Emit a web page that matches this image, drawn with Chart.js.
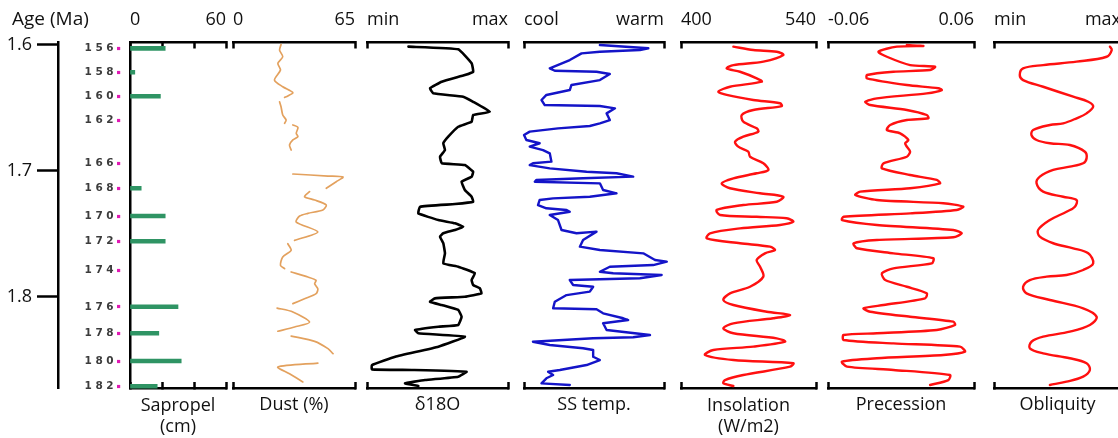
<!DOCTYPE html>
<html><head><meta charset="utf-8">
<script src="https://cdn.jsdelivr.net/npm/chart.js@4.4.1/dist/chart.umd.min.js"></script>
<style>
html,body{margin:0;padding:0;overflow:hidden;background:#fff;width:1118px;height:438px;position:relative;}
canvas{position:absolute;top:0;}
</style></head><body>
<script>
// ---------- DATA ----------
const ageTicks = [1.6, 1.7, 1.8];
const ageMin = 1.5984, ageMax = 1.8724;

const sapropelNumbers = ['156','158','160','162','166','168','170','172','174','176','178','180','182'];
const sapropelAges = [1.603,1.622,1.641,1.660,1.694,1.714,1.736,1.756,1.779,1.808,1.829,1.851,1.871];
const sapropelThickness = [22,3,19,null,null,7,22,22,null,30,18,32,17];

const dustAge = [1.600,1.6044,1.6097,1.6149,1.6202,1.6282,1.6335,1.6382,1.6408,1.6419, 1.6436,
  1.6454,1.6493,1.6559,1.6599,1.6625, 1.6631,
  1.6638,1.6657,1.6704,1.6731,1.6757,1.6797,1.6837, 1.690,
  1.7027,1.7043,1.7051,1.7088,1.7140, 1.7153,
  1.7167,1.7207,1.7233,1.7273,1.7312,1.7339,1.7360,1.7408,1.7487,1.7553, 1.7566,
  1.7580,1.7632,1.7685,1.7751,1.7778, 1.779,
  1.7804,1.7844,1.7870,1.7897,1.7937,1.7976,1.8016,1.8055, 1.807,
  1.8090,1.8121,1.8201,1.8240,1.8274, 1.829,
  1.8312,1.8354,1.8412,1.8452, 1.849,
  1.8526,1.8557,1.8611,1.8676];
const dustPct = [25.6,24.8,26.5,23.9,25.3,22.1,26.5,31.9,29.2,27.5, null,
  24.8,25.6,26.5,28.3,27.5, null,
  31.9,34.6,33.7,34.6,31.9,30.1,31.0, null,
  31.9,50.6,58.6,55.0,49.7, null,
  40.8,38.1,43.5,49.7,47.9,39.9,35.5,33.7,45.2,32.8, null,
  29.2,31.0,26.5,25.3,27.5, null,
  31.0,39.9,44.3,43.5,45.2,44.3,38.1,31.9, null,
  23.5,31.9,40.8,32.8,23.9, null,
  31.0,43.5,50.6,53.3, null,
  45.2,23.9,30.1,37.2];

const d18Age = [1.6017,1.6038,1.6149,1.6216,1.6242,1.6295,1.6347,1.6387,1.6414,1.6454,
  1.6533,1.6559,1.6612,1.6652,1.6731,1.6783,1.6837,1.6890,1.6942,1.6956,
  1.7009,1.7048,1.7088,1.7154,1.7207,1.7247,1.7265,1.7286,1.7339,1.7392,
  1.7418,1.7445,1.7471,1.7497,1.7524,1.7576,1.7656,1.7735,1.7762,1.7814,
  1.7868,1.7907,1.7933,1.7973,1.8000,1.8013,1.8040,1.8066,1.8105,1.8159,
  1.8224,1.8238,1.8264,1.8290,1.8317,1.8396,1.8476,1.8542,1.8576,1.8581,
  1.8595,1.8634,1.8661,1.8687,1.8708];
const d18Val = [29.4,64.7,74.2,75.3,69.4,53.0,44.7,47.0,68.2,75.3,
  87.1,75.3,74.2,64.7,57.6,54.1,55.3,51.8,53.0,69.4,
  75.3,74.2,67.1,69.4,74.2,75.3,62.4,37.6,36.4,50.6,
  62.4,68.2,62.4,54.1,51.8,54.1,55.3,54.1,64.7,76.5,
  74.2,75.3,80.0,81.2,69.4,48.2,44.7,53.0,64.7,67.1,
  64.7,50.6,34.1,36.4,69.4,50.6,20.0,3.5,3.5,31.8,
  70.6,64.7,41.2,27.0,36.4];

const sstAge = [1.6004,1.6030,1.6044,1.6057,1.6070,1.6123,1.6189,1.6208,1.6216,1.6234,
  1.6282,1.6321,1.6361,1.6400,1.6440,1.6480,1.6488,1.6506,1.6546,1.6599,
  1.6625,1.6646,1.6665,1.6691,1.6718,1.6757,1.6783,1.6810,1.6837,1.6863,
  1.6929,1.6942,1.6956,1.6982,1.7009,1.7021,1.7048,1.7061,1.7074,1.7088,
  1.7101,1.7154,1.7180,1.7207,1.7220,1.7233,1.7273,1.7299,1.7312,1.7326,
  1.7352,1.7392,1.7471,1.7497,1.7484,1.7550,1.7603,1.7630,1.7656,1.7709,
  1.7722,1.7749,1.7762,1.7802,1.7814,1.7828,1.7854,1.7868,1.7907,1.7921,
  1.7960,1.7987,1.8040,1.8092,1.8100,1.8132,1.8171,1.8185,1.8211,1.8264,
  1.8304,1.8322,1.8330,1.8357,1.8383,1.8409,1.8423,1.8476,1.8502,1.8542,
  1.8581,1.8595,1.8621,1.8647,1.8687,1.8700];
const sstVal = [54.2,88.8,82.8,54.2,41.1,32.7,18.4,22.0,51.8,61.3,
  54.2,33.9,32.7,16.0,12.5,14.8,54.2,65.0,59.0,61.3,
  54.2,47.0,24.3,4.1,0,1.7,11.2,4.1,13.6,18.4,
  19.6,6.4,4.1,18.4,44.7,66.1,78.0,42.2,8.9,7.7,
  54.2,56.5,66.1,47.0,20.8,11.2,10.0,16.0,30.4,32.7,
  18.4,24.3,26.8,37.5,51.8,42.2,39.9,54.2,85.2,93.6,
  102,92.3,61.3,54.2,63.7,98.3,82.8,32.7,35.1,49.4,
  47.0,30.4,22.0,20.8,51.8,56.5,70.9,74.4,56.5,59.0,
  90.0,78.0,49.4,6.4,18.4,42.2,49.4,49.4,54.2,44.7,
  25.6,17.2,20.8,16.0,12.5,32.7];

const insolAge = [1.6017,1.6044,1.6057,1.6083,1.6136,1.6163,1.6189,1.6216,1.6268,1.6295,
  1.6335,1.6374,1.6400,1.6440,1.6466,1.6488,1.6519,1.6559,1.6612,1.6665,
  1.6691,1.6731,1.6771,1.6810,1.6850,1.6890,1.6942,1.6995,1.7021,1.7061,
  1.7101,1.7140,1.7180,1.7207,1.7247,1.7273,1.7312,1.7352,1.7366,1.7378,
  1.7405,1.7431,1.7458,1.7497,1.7537,1.7576,1.7603,1.7630,1.7656,1.7709,
  1.7762,1.7841,1.7921,1.7973,1.8026,1.8066,1.8119,1.8145,1.8171,1.8211,
  1.8251,1.8290,1.8330,1.8357,1.8396,1.8423,1.8462,1.8502,1.8528,1.8555,
  1.8621,1.8661,1.8687,1.8708];
const insolVal = [454.3,475.0,499.3,506.1,485.4,454.3,447.4,461.2,478.5,483.7,
  450.8,438.7,447.4,475.0,502.7,504.5,475.0,463.0,464.6,478.5,
  480.2,464.6,456.0,459.4,469.8,471.6,485.4,490.6,478.5,454.3,
  442.2,450.8,482.0,506.1,499.3,464.6,437.0,440.5,478.5,509.6,
  516.5,502.7,461.2,430.1,426.7,461.2,492.3,497.5,487.1,478.5,
  482.0,485.4,471.6,450.8,443.9,454.3,488.9,513.1,495.7,454.3,
  443.9,454.3,499.3,507.9,475.0,433.5,424.9,454.3,516.5,513.1,
  464.6,445.6,443.9,454.3];

const precAge = [1.6004,1.6012,1.6017,1.6057,1.6097,1.6163,1.6176,1.6202,1.6216,1.6242,
  1.6268,1.6321,1.6347,1.6361,1.6387,1.6427,1.6454,1.6480,1.6519,1.6559,
  1.6585,1.6599,1.6638,1.6678,1.6704,1.6757,1.6783,1.6810,1.6850,1.6890,
  1.6942,1.6982,1.7035,1.7074,1.7101,1.7140,1.7167,1.7193,1.7233,1.7259,
  1.7286,1.7312,1.7339,1.7366,1.7392,1.7431,1.7471,1.7497,1.7529,1.7550,
  1.7576,1.7616,1.7656,1.7695,1.7735,1.7775,1.7814,1.7868,1.7921,1.7973,
  1.8013,1.8066,1.8092,1.8119,1.8159,1.8198,1.8224,1.8264,1.8290,1.8304,
  1.8343,1.8370,1.8396,1.8436,1.8462,1.8488,1.8515,1.8555,1.8581,1.8621,
  1.8661,1.8700];
const precVal = [0.0048,0.0184,-0.0034,-0.0185,-0.0116,0.0075,0.0280,0.0239,-0.0062,-0.0280,
  -0.0280,0.0048,0.0307,0.0335,0.0212,-0.0198,-0.0294,-0.0253,0.0048,0.0212,
  0.0225,0.0048,-0.0089,-0.0116,-0.0007,0.0061,0.0034,0.0048,0.0075,0.0048,
  -0.0144,-0.0157,0.0075,0.0294,0.0321,0.0075,-0.0335,-0.0376,-0.0198,0.0348,
  0.0512,0.0458,0.0075,-0.0472,-0.0485,-0.0198,0.0430,0.0499,0.0430,-0.0198,
  -0.0390,-0.0362,-0.0062,0.0266,0.0253,-0.0062,-0.0157,-0.0130,0.0048,0.0212,
  0.0198,-0.0144,-0.0308,-0.0253,0.0075,0.0430,0.0444,0.0294,-0.0198,-0.0472,
  -0.0472,-0.0062,0.0485,0.0526,0.0348,-0.0198,-0.0485,-0.0444,-0.0062,0.0403,
  0.0389,0.0239];

const oblAge = [1.6017,1.6044,1.6097,1.6136,1.6163,1.6189,1.6242,1.6282,1.6335,1.6414,
  1.6454,1.6493,1.6546,1.6585,1.6625,1.6638,1.6678,1.6718,1.6757,1.6783,
  1.6797,1.6850,1.6902,1.6942,1.6969,1.6995,1.7048,1.7101,1.7167,1.7207,
  1.7233,1.7286,1.7326,1.7392,1.7471,1.7524,1.7576,1.7616,1.7656,1.7735,
  1.7788,1.7828,1.7841,1.7868,1.7921,1.7973,1.8026,1.8092,1.8159,1.8224,
  1.8277,1.8317,1.8357,1.8409,1.8449,1.8488,1.8528,1.8581,1.8634,1.8674,
  1.8700];
const oblVal = [91.3,92.7,88.7,65.0,38.7,22.9,20.3,22.9,38.7,62.4,
  74.2,78.1,72.9,65.0,54.5,44.0,30.8,29.5,33.5,44.0,
  59.7,71.6,72.9,70.2,59.7,46.6,36.1,33.5,38.7,54.5,
  65.0,63.7,57.1,44.0,34.7,36.1,46.6,62.4,74.2,78.1,
  70.2,57.1,41.4,28.2,22.9,25.6,44.0,70.2,80.8,75.5,
  59.7,38.7,29.5,28.2,38.7,59.7,72.9,75.5,70.2,57.1,
  44.0];

// ---------- SETUP ----------
const FONT = "'Open Sans', 'Liberation Sans', Arial, sans-serif";
Chart.defaults.font.family = FONT;
Chart.defaults.color = '#111';

// linear scale whose labels may extend beyond the axis box
class FreeLinearScale extends Chart.LinearScale {
  static id = 'freeLinear';
  static defaults = Chart.LinearScale.defaults;
  _computeLabelArea() { return undefined; }
}
// same, with letter-spaced labels (sapropel numbers)
class SpacedLinearScale extends FreeLinearScale {
  static id = 'spacedLinear';
  static defaults = Chart.LinearScale.defaults;
  drawLabels(area) {
    const ctx = this.ctx;
    ctx.save();
    ctx.letterSpacing = '3.5px';
    super.drawLabels(area);
    ctx.restore();
  }
}
Chart.register(FreeLinearScale, SpacedLinearScale);

const AREA_TOP = 42.5, BOTTOM_H = 50, PAD = 22, H = 438;

function makeCanvas(left, width) {
  const c = document.createElement('canvas');
  c.width = width; c.height = H;
  c.style.left = left + 'px'; c.style.width = width + 'px'; c.style.height = H + 'px';
  document.body.appendChild(c);
  return c;
}

function gridOpts() {
  return {display: true, drawOnChartArea: false, drawTicks: true, offset: false,
          tickLength: -6, tickWidth: 2.5, tickColor: '#000'};
}
function borderOpts() { return {display: true, color: '#000', width: 2.5}; }

function xAxes(p, topH) {
  const setTicks = s => { s.ticks = p.ticks.map(v => ({value: v})); };
  const twoLine = Array.isArray(p.title);
  return {
    x: {type: 'freeLinear', position: 'top', min: p.min, max: p.max, offset: false,
        afterBuildTicks: setTicks, afterFit: s => { s.height = topH; },
        ticks: {autoSkip: false, maxRotation: 0, minRotation: 0, align: 'inner', padding: 17.7,
                font: {size: 18}, color: '#111',
                callback: (v, i, t) => i === 0 ? p.lo : (i === t.length - 1 ? p.hi : '')},
        grid: gridOpts(), border: borderOpts()},
    xb: {type: 'freeLinear', position: 'bottom', min: p.min, max: p.max, offset: false,
        afterBuildTicks: setTicks, afterFit: s => { s.height = BOTTOM_H; },
        ticks: {display: false},
        grid: gridOpts(), border: borderOpts(),
        title: {display: true, text: p.title, font: {size: 18}, color: '#111',
                padding: {top: 0, bottom: twoLine ? 0 : 22}}}
  };
}

// ---------- SAPROPEL + AGE AXIS ----------
(function () {
  const p = {min: 0, max: 60, ticks: [0, 20, 40, 60], lo: '0', hi: '60', title: ['Sapropel', '(cm)']};
  const titleH = 19 * 1.2 + 8;
  const c = makeCanvas(0, 226 + PAD);
  new Chart(c, {
    type: 'bar',
    data: {datasets: [{
      data: sapropelAges.map((a, i) => ({x: sapropelThickness[i], y: a})),
      backgroundColor: '#2f9464', borderWidth: 0, barThickness: 4,
      xAxisID: 'x', yAxisID: 'y', clip: 6
    }]},
    options: {
      indexAxis: 'y', responsive: false, animation: false, events: [],
      layout: {padding: {left: 12, right: PAD, top: 0, bottom: 0}},
      plugins: {legend: {display: false}, tooltip: {enabled: false},
        title: {display: true, text: 'Age (Ma)', align: 'start', color: '#111',
                font: {size: 19, weight: 'normal'}, padding: {top: 8, bottom: 0}}},
      scales: Object.assign(xAxes(p, AREA_TOP - titleH), {
        y: {type: 'spacedLinear', position: 'left', weight: 0, min: ageMin, max: ageMax, reverse: true, offset: false,
            afterBuildTicks: s => { s.ticks = sapropelAges.map(v => ({value: v})); },
            afterFit: s => { s.width = 72; },
            ticks: {autoSkip: false, padding: 0, font: {family: "'DejaVu Sans', sans-serif", size: 10.5, weight: 'bold'}, color: '#3c3c3c',
                    callback: (v, i) => sapropelNumbers[i]},
            grid: {display: true, drawOnChartArea: false, drawTicks: true, offset: false,
                   tickLength: 13, tickWidth: 3.2, tickColor: '#e01ab4', tickBorderDash: [3.2, 40]},
            border: borderOpts()},
        yAge: {type: 'freeLinear', position: 'left', weight: 1, min: ageMin, max: ageMax, reverse: true, offset: false,
            afterBuildTicks: s => { s.ticks = ageTicks.map(v => ({value: v})); },
            afterFit: s => { s.width = 46; },
            ticks: {autoSkip: false, padding: 5, font: {size: 18}, color: '#111', callback: v => v.toFixed(1)},
            grid: {display: true, drawOnChartArea: false, drawTicks: true, offset: false,
                   tickLength: 21, tickWidth: 2.5, tickColor: '#000'},
            border: borderOpts()}
      })
    }
  });
})();

// ---------- LINE PANELS ----------
const panels = [
  {L: 233, R: 355, min: 0, max: 65, ticks: [0, 65], lo: '0', hi: '65', title: 'Dust (%)',
   ages: dustAge, vals: dustPct, color: '#e3a15e', width: 1.7, tension: 0.25},
  {L: 367, R: 508, min: 0, max: 100, ticks: [0, 100], lo: 'min', hi: 'max', title: 'δ18O',
   ages: d18Age, vals: d18Val, color: '#000000', width: 2.6, tension: 0.1},
  {L: 524, R: 664, min: 0, max: 100, ticks: [0, 100], lo: 'cool', hi: 'warm', title: 'SS temp.',
   ages: sstAge, vals: sstVal, color: '#1414c8', width: 2.4, tension: 0},
  {L: 681, R: 816, min: 400, max: 540, ticks: [400, 540], lo: '400', hi: '540', title: ['Insolation', '(W/m2)'],
   ages: insolAge, vals: insolVal, color: '#ff1010', width: 2.4, tension: 0.3},
  {L: 828, R: 974, min: -0.06, max: 0.06, ticks: [-0.06, 0.06], lo: '-0.06', hi: '0.06', title: 'Precession',
   ages: precAge, vals: precVal, color: '#ff1010', width: 2.4, tension: 0.25},
  {L: 994, R: 1121, min: 0, max: 100, ticks: [0, 100], lo: 'min', hi: 'max', title: 'Obliquity',
   ages: oblAge, vals: oblVal, color: '#ff1010', width: 2.4, tension: 0.35}
];

panels.forEach(p => {
  const c = makeCanvas(p.L - PAD, p.R - p.L + 2 * PAD);
  new Chart(c, {
    type: 'line',
    data: {datasets: [{
      data: p.ages.map((a, i) => ({x: p.vals[i], y: a})),
      borderColor: p.color, borderWidth: p.width, pointRadius: 0, fill: false,
      tension: p.tension, spanGaps: false, clip: 12,
      borderJoinStyle: 'round', borderCapStyle: 'round',
      xAxisID: 'x', yAxisID: 'y'
    }]},
    options: {
      indexAxis: 'y', responsive: false, animation: false, events: [],
      layout: {padding: {left: PAD, right: PAD, top: 0, bottom: 0}},
      plugins: {legend: {display: false}, tooltip: {enabled: false}},
      scales: Object.assign(xAxes(p, AREA_TOP), {
        y: {type: 'linear', min: ageMin, max: ageMax, reverse: true, display: false}
      })
    }
  });
});
</script>
</body></html>
